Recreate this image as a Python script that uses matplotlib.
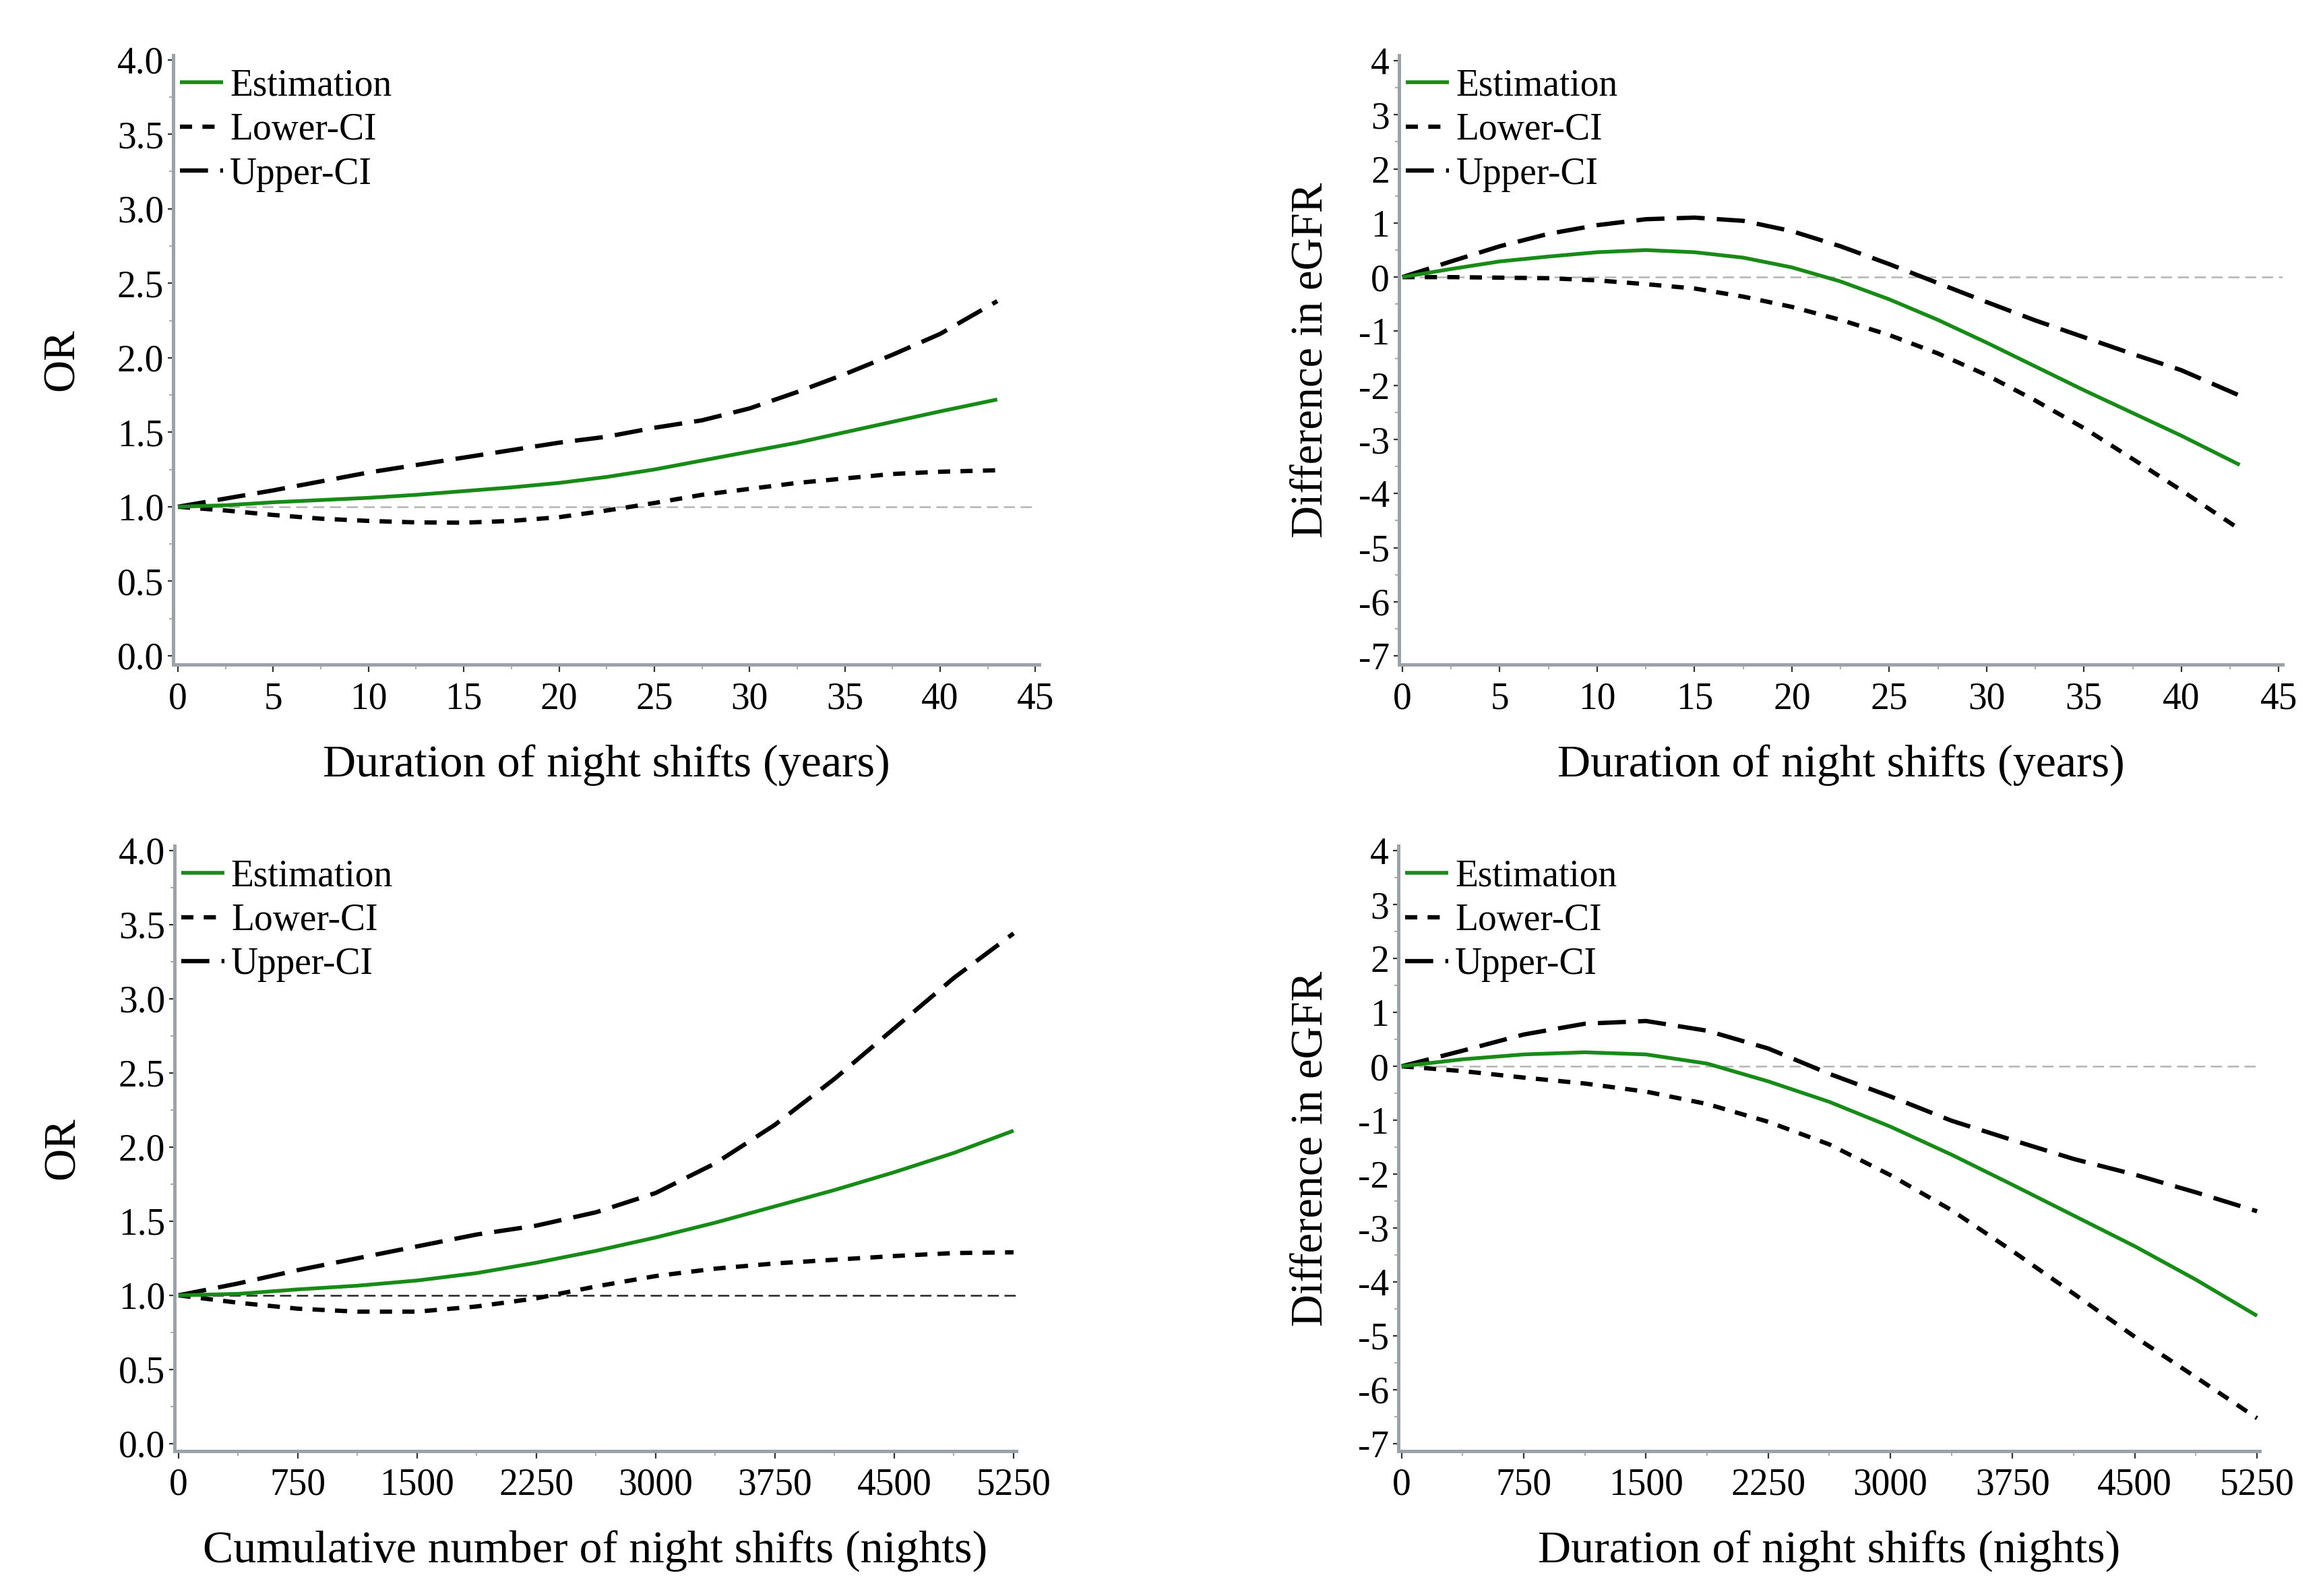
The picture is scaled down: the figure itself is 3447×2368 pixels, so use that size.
import matplotlib
matplotlib.use("Agg")
import matplotlib.pyplot as plt
from matplotlib.ticker import MultipleLocator

plt.rcParams['font.family'] = ['Liberation Serif', 'DejaVu Serif']
plt.rcParams['lines.scale_dashes'] = False

# ---------------- data ----------------
years = [0, 2.5, 5, 7.5, 10, 12.5, 15, 17.5, 20, 22.5, 25, 27.5, 30, 32.5, 35, 37.5, 40, 43]
or_years_est = [1.0, 1.01, 1.03, 1.045, 1.06, 1.08, 1.105, 1.13, 1.16, 1.20, 1.25, 1.31, 1.37, 1.43, 1.50, 1.57, 1.64, 1.72]
or_years_low = [1.0, 0.975, 0.945, 0.92, 0.905, 0.895, 0.893, 0.905, 0.93, 0.975, 1.025, 1.08, 1.12, 1.16, 1.19, 1.22, 1.235, 1.245]
or_years_up = [1.0, 1.055, 1.11, 1.17, 1.23, 1.28, 1.33, 1.38, 1.43, 1.47, 1.53, 1.58, 1.66, 1.77, 1.89, 2.02, 2.16, 2.38]

eg_years_est = [0, 0.15, 0.29, 0.38, 0.46, 0.50, 0.46, 0.36, 0.18, -0.08, -0.41, -0.79, -1.21, -1.65, -2.09, -2.51, -2.93, -3.47]
eg_years_up = [0, 0.29, 0.57, 0.80, 0.96, 1.07, 1.10, 1.04, 0.85, 0.57, 0.24, -0.11, -0.46, -0.80, -1.11, -1.42, -1.72, -2.19]
eg_years_low = [0, 0.0, -0.01, -0.02, -0.06, -0.13, -0.21, -0.36, -0.55, -0.79, -1.07, -1.41, -1.81, -2.28, -2.79, -3.36, -3.94, -4.66]

nights = [0, 375, 750, 1125, 1500, 1875, 2250, 2625, 3000, 3375, 3750, 4125, 4500, 4875, 5250]
or_nights_est = [1.0, 1.01, 1.04, 1.065, 1.10, 1.15, 1.22, 1.30, 1.39, 1.49, 1.60, 1.71, 1.83, 1.96, 2.11]
or_nights_up = [1.0, 1.08, 1.17, 1.25, 1.33, 1.41, 1.47, 1.56, 1.69, 1.89, 2.15, 2.46, 2.80, 3.14, 3.44]
or_nights_low = [1.0, 0.95, 0.91, 0.89, 0.89, 0.925, 0.98, 1.06, 1.13, 1.18, 1.215, 1.24, 1.265, 1.285, 1.29]

eg_nights_est = [0, 0.13, 0.22, 0.26, 0.22, 0.05, -0.28, -0.66, -1.12, -1.64, -2.20, -2.77, -3.34, -3.96, -4.63]
eg_nights_up = [0, 0.29, 0.59, 0.79, 0.84, 0.66, 0.33, -0.14, -0.56, -1.01, -1.37, -1.72, -2.01, -2.34, -2.69]
eg_nights_low = [0, -0.09, -0.21, -0.32, -0.47, -0.70, -1.03, -1.45, -2.02, -2.67, -3.43, -4.22, -5.02, -5.77, -6.53]

legend_labels = ["Estimation", "Lower-CI", "Upper-CI"]
xlabels = ["Duration of night shifts (years)", "Duration of night shifts (years)",
           "Cumulative number of night shifts (nights)", "Duration of night shifts (nights)"]
ylabels = ["OR", "Difference in eGFR", "OR", "Difference in eGFR"]

# ---------------- figure ----------------
W, H = 3448, 2368
fig = plt.figure(figsize=(W / 200, H / 200), dpi=200)

def rect(l, r, t, b):
    return [l / W, 1 - b / H, (r - l) / W, (b - t) / H]

GREEN = '#178a17'
SPINE = '#9ba2a8'

panels = [
    dict(rect=rect(257, 1542, 82, 986), x=years, est=or_years_est, low=or_years_low, up=or_years_up,
         xlim=(-0.25, 45.2), ylim=(-0.059, 4.03), xmaj=5, xmin=2.5, ymaj=0.5, ymin=0.25,
         ref=1.0, refcolor='#b4b4b4', refend=45, yfmt='%.1f', ylx=-0.128),
    dict(rect=rect(2076, 3387, 82, 986), x=years, est=eg_years_est, low=eg_years_low, up=eg_years_up,
         xlim=(-0.17, 45.2), ylim=(-7.16, 4.1), xmaj=5, xmin=2.5, ymaj=1, ymin=0.5,
         ref=0.0, refcolor='#b4b4b4', refend=45.2, yfmt='%d', ylx=-0.100),
    dict(rect=rect(259, 1508, 1255, 2153), x=nights, est=or_nights_est, low=or_nights_low, up=or_nights_up,
         xlim=(-25, 5267), ylim=(-0.05, 4.03), xmaj=750, xmin=375, ymaj=0.5, ymin=0.25,
         ref=1.0, refcolor='#222222', refend=5267, yfmt='%.1f', ylx=-0.133),
    dict(rect=rect(2075, 3353, 1255, 2153), x=nights, est=eg_nights_est, low=eg_nights_low, up=eg_nights_up,
         xlim=(-20, 5266), ylim=(-7.14, 4.09), xmaj=750, xmin=375, ymaj=1, ymin=0.5,
         ref=0.0, refcolor='#b4b4b4', refend=5266, yfmt='%d', ylx=-0.102),
]

for i, p in enumerate(panels):
    ax = fig.add_axes(p['rect'])
    ax.hlines(p['ref'], 0, p['refend'], colors=p['refcolor'], linewidth=0.9,
              linestyles=[(0, (6, 3))], zorder=1)
    ax.plot(p['x'], p['est'], color=GREEN, lw=2.0, solid_joinstyle='round',
            solid_capstyle='butt', label=legend_labels[0], zorder=3)
    ax.plot(p['x'], p['low'], color='black', lw=2.3, linestyle=(0, (6.5, 5.5)),
            label=legend_labels[1], zorder=2)
    ax.plot(p['x'], p['up'], color='black', lw=2.3, linestyle=(0, (15, 6.5)),
            label=legend_labels[2], zorder=2)
    ax.set_xlim(*p['xlim'])
    ax.set_ylim(*p['ylim'])
    for s in ['top', 'right']:
        ax.spines[s].set_visible(False)
    for s in ['left', 'bottom']:
        ax.spines[s].set_color(SPINE)
        ax.spines[s].set_linewidth(1.8)
    ax.xaxis.set_major_locator(MultipleLocator(p['xmaj']))
    ax.xaxis.set_minor_locator(MultipleLocator(p['xmin']))
    ax.yaxis.set_major_locator(MultipleLocator(p['ymaj']))
    ax.yaxis.set_minor_locator(MultipleLocator(p['ymin']))
    ax.yaxis.set_major_formatter(matplotlib.ticker.FormatStrFormatter(p['yfmt']))
    ax.xaxis.set_major_formatter(matplotlib.ticker.FormatStrFormatter('%d'))
    ax.tick_params(axis='x', which='major', length=4, width=0.8, color='#333333',
                   labelsize=20, pad=5)
    ax.tick_params(axis='x', which='minor', length=2.5, width=0.7, color='#aaaaaa')
    ax.tick_params(axis='y', which='major', length=3, width=0.8, color='#333333',
                   labelsize=20, pad=2)
    ax.tick_params(axis='y', which='minor', length=2, width=0.7, color='#aaaaaa')
    ax.set_xlabel(xlabels[i], fontsize=24.5, va='center')
    ax.xaxis.set_label_coords(0.5, -0.166)
    ax.set_ylabel(ylabels[i], fontsize=24, va='center')
    ax.yaxis.set_label_coords(p['ylx'], 0.5)
    ax.legend(loc='upper left', bbox_to_anchor=(0.008, 0.978), frameon=False, fontsize=20,
              handlelength=1.15, handletextpad=0.18, labelspacing=0.24, borderpad=0.0,
              borderaxespad=0.0)

fig.savefig("out.png", dpi=200)
